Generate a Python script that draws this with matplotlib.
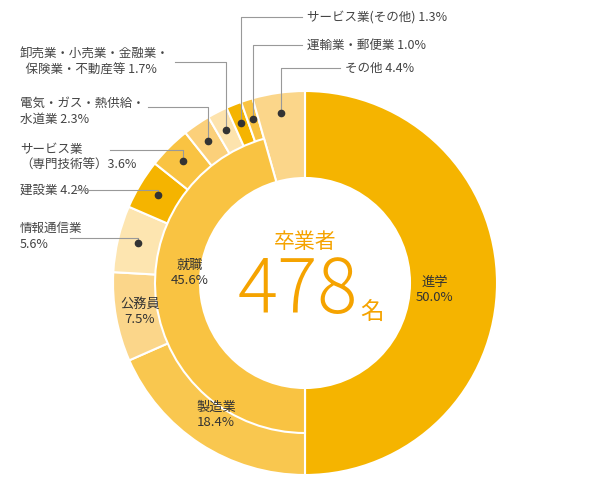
import matplotlib
matplotlib.use('Agg')
import matplotlib.pyplot as plt
import numpy as np

plt.rcParams['font.family'] = ['Noto Sans CJK JP', 'DejaVu Sans']

# 外側リング
outer_labels = ['進学', '製造業', '公務員', '情報通信業', '建設業', 'サービス業(専門技術等)',
                '電気・ガス・熱供給・水道業', '卸売業・小売業・金融業・保険業・不動産等',
                'サービス業(その他)', '運輸業・郵便業', 'その他']
outer_values = [50.0, 18.4, 7.5, 5.6, 4.2, 3.6, 2.3, 1.7, 1.3, 1.0, 4.4]
outer_colors = ['#F5B400', '#F9C74F', '#FBD68A', '#FDE5B0', '#F5B400', '#F9C342',
                '#FBD07A', '#FDE3AD', '#F5B400', '#F9C342', '#FBD68A']
# 内側リング
inner_labels = ['進学', '就職', 'その他']
inner_values = [50.0, 45.6, 4.4]
total = 478

CX, CY = 305, 283
R_OUT, R_MID, R_IN = 192, 150, 105

fig = plt.figure(figsize=(6, 5), dpi=100)
ax = fig.add_axes([0, 0, 1, 1])
ax.set_xlim(0, 600)
ax.set_ylim(0, 500)
ax.set_aspect('equal')
ax.axis('off')

def Y(yp):
    return 500 - yp

ax.pie(outer_values, colors=outer_colors, startangle=90, counterclock=False,
       center=(CX, Y(CY)), radius=R_OUT, frame=True,
       wedgeprops=dict(width=R_OUT - R_IN, edgecolor='white', linewidth=1.5))
w2, _ = ax.pie(inner_values, colors=['none', '#F9C342', 'none'], startangle=90, counterclock=False,
               center=(CX, Y(CY)), radius=R_MID, frame=True,
               wedgeprops=dict(width=R_MID - R_IN, edgecolor='white', linewidth=1.5))
w2[0].set_edgecolor('none')
w2[2].set_edgecolor('none')
ax.set_xlim(0, 600)
ax.set_ylim(0, 500)
ax.axis('off')

# 引き出し線
cum = np.cumsum([0] + outer_values)
def dot(i, r=172):
    th = 2 * np.pi * (cum[i] + outer_values[i] / 2) / 100
    return CX + r * np.sin(th), CY - r * np.cos(th)

gray = '#444444'
lc = '#999999'
ann = [
    # idx, text lines, text x, text y(top), line y, mode
    (8, 'サービス業(その他) 1.3%', 307, 17, 17, 'up'),
    (9, '運輸業・郵便業 1.0%', 307, 45, 45, 'up'),
    (10, 'その他 4.4%', 345, 68, 68, 'up'),
    (7, '卸売業・小売業・金融業・\n  保険業・不動産等 1.7%', 20, 62, 62, 'left'),
    (6, '電気・ガス・熱供給・\n水道業 2.3%', 20, 111, 107, 'left'),
    (5, 'サービス業\n（専門技術等）3.6%', 20, 157, 150, 'left'),
    (4, '建設業 4.2%', 20, 190, 190, 'left'),
    (3, '情報通信業\n5.6%', 20, 236, 238, 'left'),
]
for idx, txt, tx, ty, ly, mode in ann:
    dx, dy = dot(idx)
    ax.plot(dx, Y(dy), 'o', color='#333333', ms=4.5, zorder=5)
    if mode == 'up':
        ax.plot([dx, dx, tx - 5], [Y(dy), Y(ly), Y(ly)], color=lc, lw=0.8, zorder=4)
        ax.text(tx, Y(ty), txt, fontsize=9, color=gray, va='center', ha='left')
    else:
        x0 = {3: 70, 4: 75, 5: 110, 6: 148, 7: 175}[idx]
        if abs(dy - ly) > 3:
            ax.plot([x0, dx, dx], [Y(ly), Y(ly), Y(dy)], color=lc, lw=0.8, zorder=4)
        else:
            ax.plot([x0, dx], [Y(dy), Y(dy)], color=lc, lw=0.8, zorder=4)
        ax.text(tx, Y(ty), txt, fontsize=9, color=gray, va='center', ha='left', linespacing=1.3)

# リング内ラベル
ax.text(435, Y(290), '進学\n50.0%', fontsize=9.5, color='#333333', ha='center', va='center')
ax.text(190, Y(273), '就職\n45.6%', fontsize=9.5, color='#333333', ha='center', va='center')
ax.text(140, Y(312), '公務員\n7.5%', fontsize=9.5, color='#333333', ha='center', va='center')
ax.text(216, Y(415), '製造業\n18.4%', fontsize=9.5, color='#333333', ha='center', va='center')

# 中央
ax.text(305, Y(242), '卒業者', fontsize=15, color='#F5A300', ha='center', va='center')
ax.text(298, Y(292), str(total), fontsize=54, color='#F5A300', ha='center', va='center',
        fontweight='light')
ax.text(372, Y(312), '名', fontsize=17, color='#F5A300', ha='center', va='center')

fig.savefig('out.png', dpi=100)
